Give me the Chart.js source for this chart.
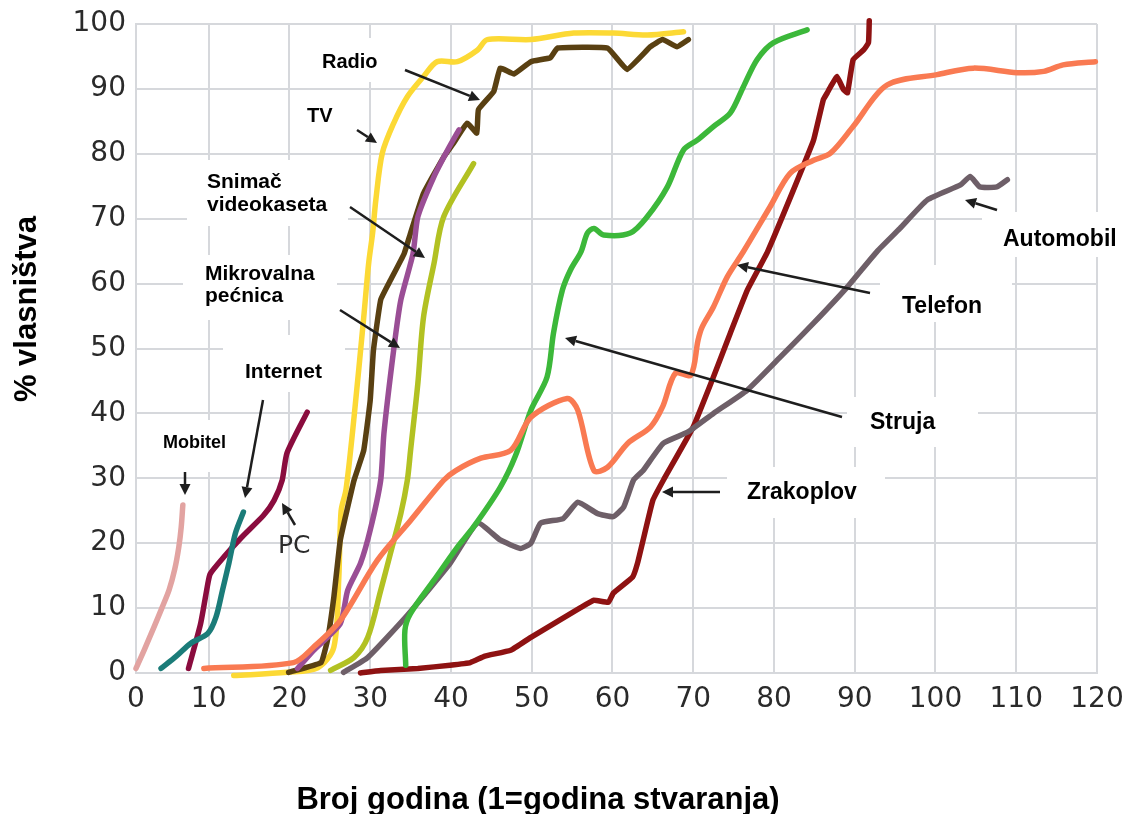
<!DOCTYPE html>
<html>
<head>
<meta charset="utf-8">
<script src="https://cdn.jsdelivr.net/npm/chart.js@4.4.1/dist/chart.umd.min.js"></script>
<style>
  html, body { margin: 0; padding: 0; background: #ffffff; }
  #wrap { width: 1130px; height: 814px; position: relative; }
</style>
</head>
<body>
<div id="wrap"><canvas id="c" width="1130" height="814"></canvas></div>
<script>
// ---- tick labels ----
const xTickValues = [1, 10, 20, 30, 40, 50, 60, 70, 80, 90, 100, 110, 120];
const xTickLabels = ['0', '10', '20', '30', '40', '50', '60', '70', '80', '90', '100', '110', '120'];

// ---- series: [year since invention, % ownership] ----
const mobitel = [[1,0.7],[2,3.5],[3.2,7],[4.2,10],[5.1,12.8],[5.8,16],[6.3,19.4],[6.6,22.5],[6.8,25.9]];
const internet = [[4.1,0.7],[6,2.6],[7.8,4.6],[9.9,6.1],[10.9,8.6],[11.7,12.7],[12.5,16.9],[13.3,21.5],[14.3,24.8]];
const pc = [[7.5,0.7],[9.0,7.6],[9.9,13.8],[10.2,15.3],[11.9,17.9],[14.0,20.8],[16.8,24.3],[18.1,26.6],[19.1,29.7],[19.7,33.9],[22.2,40.2]];
const tv = [[13.1,-0.4],[19.7,0.1],[23.5,0.8],[25.5,4],[26.1,14.3],[26.4,25],[27,28.2],[28,39.4],[29.2,54.8],[29.8,63],[30.3,67.8],[30.7,72.9],[31.5,80.1],[32.9,84.7],[34.6,88.8],[36.6,91.9],[38.3,94.2],[40.8,94.2],[43.3,96],[44.5,97.6],[49.9,97.6],[55.2,98.6],[60.1,98.6],[64.3,98.3],[68.8,98.8]];
const radio = [[19.9,0.1],[23.9,1.6],[24.7,5],[25.5,11.7],[26.3,20.5],[28,29.7],[29.2,34.3],[30,42],[30.4,49.7],[31.3,57.5],[32.5,60.5],[34.2,64.6],[35,67.8],[36.6,73.9],[39.1,79.5],[40.3,81.6],[42,84.7],[43.2,83.2],[43.4,86.8],[45.3,89.6],[46.1,93.2],[47.8,92.3],[49.9,94.2],[52.3,94.8],[53.2,96.3],[59.4,96.3],[61.8,93],[64.7,96.5],[66.2,97.6],[68,96.5],[69.4,97.6]];
const mikrovalna = [[21,0.7],[23,3.5],[26.3,7.6],[27.2,12.7],[28.8,16.9],[30,22],[31.3,29.7],[31.7,36.9],[32.9,49.7],[33.8,57.5],[35.3,64.6],[35.9,70.3],[37.9,76.5],[39.6,80.6],[41,83.7]];
const videokaseta = [[25.1,0.4],[28,2.4],[29.7,5.5],[31.3,12.7],[32.5,18.4],[33.8,24.6],[34.6,29.7],[35,34.3],[35.9,44.6],[36.6,54.8],[37.9,63.1],[39.1,70.3],[42.8,78.5]];
const telefon = [[9.4,0.7],[20.5,1.6],[23,4],[26.3,8.1],[30.9,17.4],[35,23.5],[39.1,29.7],[40.6,31.2],[43.7,33.1],[47.4,34.3],[49.9,39.4],[54.4,42.3],[55.7,40.5],[57.7,31.2],[59.4,31.7],[61.9,35.4],[64.7,37.9],[66.2,41],[67.8,46.2],[69.7,45.9],[70.6,51.3],[71.1,53.3],[72.5,56.4],[74.2,61],[76.2,64.9],[79.5,71.8],[82,77],[84.9,79],[87,80.1],[89.8,84.2],[94,90.6],[100.2,92.2],[104.7,93.2],[110.1,92.5],[113.4,92.7],[115.8,93.7],[119.8,94.2]];
const struja = [[34.4,1.2],[34.3,6.6],[35,9.2],[37.9,14.3],[40.8,19.4],[42.8,22.5],[46.1,28.6],[48,33.5],[49.9,40.5],[51.9,45.6],[52.7,52.4],[53.8,59],[54.8,62.1],[56.1,64.9],[56.9,67.8],[57.7,68.5],[58.9,67.5],[62.2,67.8],[64.3,70.3],[66.8,74.9],[68.8,80.6],[70.5,82.1],[72.5,84.2],[74.6,86.3],[76.2,90.3],[77.9,94.5],[79.9,97.1],[84.1,99.1]];
const automobil = [[26.7,0.1],[29.7,2.4],[34.6,8.9],[39.9,16.9],[43.3,23.1],[46.1,20.5],[48.6,19.2],[49.9,20],[51.1,23.1],[53.9,23.8],[55.7,26.3],[58.1,24.6],[60.1,24.1],[61.4,25.6],[62.6,29.7],[63.8,31.2],[66.3,35.4],[69.3,37.1],[72.5,40],[76.7,43.6],[80.8,48.7],[84.9,53.9],[89.1,59.5],[92.8,65],[95.6,68.5],[99,72.9],[103.1,75.2],[104.3,76.5],[105.5,74.9],[107.6,74.9],[108.9,76]];
const zrakoplov = [[28.8,0],[31.3,0.4],[35.9,0.7],[39.9,1.2],[42.4,1.6],[44.2,2.6],[47.4,3.5],[49.9,5.5],[56.1,10.1],[57.7,11.2],[59.5,10.9],[60.1,12.3],[62.5,14.8],[63.1,16.9],[63.8,20.5],[65,26.6],[66.3,29.7],[70,37.9],[72.5,45.6],[74.6,52.4],[76.7,59],[79.2,64.9],[82.4,74.4],[84.9,82.1],[86.1,88.3],[86.6,89.4],[87,90.3],[87.8,91.9],[88.6,89.9],[89.1,89.4],[89.8,94.5],[91.1,96],[91.7,97.1],[91.8,100.5]];

const seriesDefs = [
  { label: 'Telefon', data: telefon, color: '#f97a52', tension: 0.3 },
  { label: 'Struja', data: struja, color: '#3cb83a', tension: 0.3 },
  { label: 'Automobil', data: automobil, color: '#6e5f68', tension: 0.15 },
  { label: 'Zrakoplov', data: zrakoplov, color: '#8e1212', tension: 0.1 },
  { label: 'Snimač videokaseta', data: videokaseta, color: '#b2c122', tension: 0.3 },
  { label: 'Mikrovalna pećnica', data: mikrovalna, color: '#9a4e95', tension: 0.2 },
  { label: 'Radio', data: radio, color: '#594012', tension: 0.1 },
  { label: 'TV', data: tv, color: '#fcd935', tension: 0.3 },
  { label: 'Mobitel', data: mobitel, color: '#e2a3a1', tension: 0.3 },
  { label: 'Internet', data: internet, color: '#1b7c79', tension: 0.3 },
  { label: 'PC', data: pc, color: '#8a0c3e', tension: 0.2 }
];

// ---- annotations ----
const whiteBoxes = [
  [292,38,400,82],[290,90,355,136],[187,160,348,226],[183,255,337,320],[223,335,345,392],
  [150,420,232,472],[982,212,1130,257],[880,265,1012,322],[847,397,978,447],[727,467,885,518]
];
const labelTexts = [
  { t: 'Radio', x: 322, y: 68, s: 20 },
  { t: 'TV', x: 307, y: 122, s: 20 },
  { t: 'Snimač', x: 207, y: 188, s: 21 },
  { t: 'videokaseta', x: 207, y: 211, s: 21 },
  { t: 'Mikrovalna', x: 205, y: 280, s: 21 },
  { t: 'pećnica', x: 205, y: 302, s: 21 },
  { t: 'Internet', x: 245, y: 378, s: 21 },
  { t: 'Mobitel', x: 163, y: 448, s: 18 },
  { t: 'Automobil', x: 1003, y: 246, s: 23 },
  { t: 'Telefon', x: 902, y: 313, s: 23 },
  { t: 'Struja', x: 870, y: 429, s: 23 },
  { t: 'Zrakoplov', x: 747, y: 499, s: 23 }
];
const arrows = [
  [405,70,480,100],[357,130,377,143],[350,207,425,258],[340,310,400,348],
  [263,400,245,498],[185,472,185,495],[295,525,282,503],
  [997,210,965,200],[870,293,737,265],[842,417,565,338],[720,492,662,492]
];

const annotationPlugin = {
  id: 'annot',
  beforeDatasetsDraw(chart) {
    const ctx = chart.ctx;
    ctx.save();
    ctx.fillStyle = '#ffffff';
    whiteBoxes.forEach(b => ctx.fillRect(b[0], b[1], b[2]-b[0], b[3]-b[1]));
    ctx.restore();
  },
  afterDraw(chart) {
    const ctx = chart.ctx;
    ctx.save();
    ctx.fillStyle = '#000000';
    ctx.textAlign = 'left';
    ctx.textBaseline = 'alphabetic';
    labelTexts.forEach(l => {
      ctx.font = 'bold ' + l.s + 'px "Liberation Sans", Arial, sans-serif';
      ctx.fillText(l.t, l.x, l.y);
    });
    ctx.font = '25px "DejaVu Sans", sans-serif';
    ctx.fillStyle = '#2b2b2b';
    ctx.fillText('PC', 278, 553);
    // arrows
    ctx.strokeStyle = '#1e1e1e';
    ctx.fillStyle = '#1e1e1e';
    ctx.lineWidth = 2.5;
    arrows.forEach(a => {
      const [x1,y1,x2,y2] = a;
      const ang = Math.atan2(y2-y1, x2-x1);
      const L = 11, W = 5.5;
      const bx = x2 - L*Math.cos(ang), by = y2 - L*Math.sin(ang);
      ctx.beginPath(); ctx.moveTo(x1,y1); ctx.lineTo(bx,by); ctx.stroke();
      ctx.beginPath();
      ctx.moveTo(x2,y2);
      ctx.lineTo(bx + W*Math.sin(ang), by - W*Math.cos(ang));
      ctx.lineTo(bx - W*Math.sin(ang), by + W*Math.cos(ang));
      ctx.closePath(); ctx.fill();
    });
    // axis titles
    ctx.fillStyle = '#000000';
    ctx.font = 'bold 31px "Liberation Sans", Arial, sans-serif';
    ctx.textAlign = 'center';
    ctx.fillText('Broj godina (1=godina stvaranja)', 538, 809);
    ctx.translate(36, 309);
    ctx.rotate(-Math.PI/2);
    ctx.fillText('% vlasništva', 0, 0);
    ctx.restore();
  }
};

new Chart(document.getElementById('c'), {
  type: 'line',
  data: {
    datasets: seriesDefs.map(s => ({
      label: s.label,
      data: s.data.map(p => ({ x: p[0], y: p[1] })),
      borderColor: s.color,
      backgroundColor: s.color,
      borderWidth: 5.5,
      tension: s.tension,
      pointRadius: 0,
      borderCapStyle: 'round',
      borderJoinStyle: 'round',
      fill: false,
      clip: false
    }))
  },
  options: {
    responsive: false,
    animation: false,
    devicePixelRatio: 1,
    layout: { padding: { left: 0, top: 24, right: 33, bottom: 0 } },
    plugins: { legend: { display: false }, tooltip: { enabled: false }, title: { display: false } },
    scales: {
      x: {
        type: 'linear',
        min: 1, max: 120,
        afterBuildTicks: sc => { sc.ticks = xTickValues.map(v => ({ value: v })); },
        afterFit: sc => { sc.height = 141; sc.paddingLeft = 0; sc.paddingRight = 0; },
        grid: { color: '#d6d8dc', lineWidth: 2, drawTicks: false },
        border: { color: '#d6d8dc', width: 2 },
        ticks: {
          autoSkip: false, maxRotation: 0,
          padding: 10,
          color: '#2a2a2a',
          font: { family: '"DejaVu Sans", sans-serif', size: 28 },
          callback: (v, i) => xTickLabels[i]
        }
      },
      y: {
        min: 0, max: 100,
        afterFit: sc => { sc.width = 136; sc.paddingTop = 0; sc.paddingBottom = 0; },
        grid: { color: '#d6d8dc', lineWidth: 2, drawTicks: false },
        border: { color: '#d6d8dc', width: 2 },
        ticks: {
          stepSize: 10,
          padding: 10,
          color: '#2a2a2a',
          font: { family: '"DejaVu Sans", sans-serif', size: 28 }
        }
      }
    }
  },
  plugins: [annotationPlugin]
});
</script>
</body>
</html>
